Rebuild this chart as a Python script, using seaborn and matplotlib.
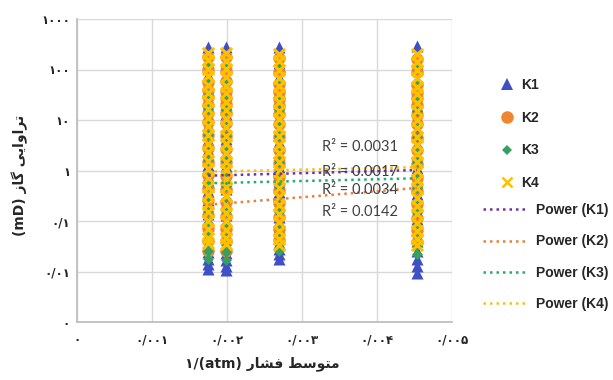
import matplotlib
matplotlib.use("Agg")
import matplotlib.pyplot as plt
import seaborn as sns
import pandas as pd
import numpy as np
from matplotlib.lines import Line2D

# ---------------- data ----------------
x_positions = [0.00175, 0.00199, 0.00269, 0.00453]

k1_values = [
    [280, 140, 78, 41, 25, 12, 7.8, 4.1, 2.5, 1.3, 0.78, 0.4, 0.26, 0.14, 0.085, 0.05, 0.034, 0.024, 0.018, 0.014, 0.011],
    [275, 138, 70, 43, 21, 13, 6.8, 4.3, 2.2, 1.25, 0.68, 0.43, 0.23, 0.13, 0.075, 0.047, 0.032, 0.023, 0.017, 0.013, 0.0105],
    [280, 135, 72, 37, 22, 11, 6.6, 3.7, 2.1, 1.15, 0.64, 0.38, 0.21, 0.12, 0.072, 0.046, 0.036, 0.028, 0.022, 0.018],
    [290, 135, 66, 36, 19, 11.5, 6.1, 3.4, 2.05, 1.1, 0.61, 0.35, 0.2, 0.11, 0.066, 0.04, 0.026, 0.018, 0.013, 0.0095],
]
k2_values = [
    [180, 96, 56, 39, 28, 20, 14, 9.2, 5.1, 2.8, 1.5, 0.82, 0.45, 0.26, 0.13, 0.072, 0.041, 0.026],
    [175, 92, 58, 37, 27, 21, 13.5, 8.8, 4.9, 2.7, 1.45, 0.78, 0.44, 0.24, 0.125, 0.07, 0.04, 0.025],
    [170, 90, 52, 36, 26, 19, 13, 8.5, 4.6, 2.6, 1.4, 0.75, 0.42, 0.23, 0.12, 0.068, 0.042],
    [165, 88, 50, 35, 27, 19.5, 12.5, 8.2, 4.4, 2.5, 1.35, 0.72, 0.4, 0.22, 0.115, 0.065, 0.038],
]
k3_values = [
    [122, 61, 31, 16.5, 9.2, 5.1, 2.9, 1.6, 0.92, 0.51, 0.29, 0.16, 0.092, 0.056, 0.036, 0.025, 0.018],
    [118, 58, 30, 16, 8.8, 4.9, 2.7, 1.55, 0.88, 0.49, 0.27, 0.155, 0.088, 0.054, 0.034, 0.024, 0.017],
    [115, 57, 29, 15.5, 8.5, 4.8, 2.6, 1.5, 0.85, 0.47, 0.26, 0.15, 0.085, 0.052, 0.035, 0.026],
    [112, 55, 28, 15, 8.3, 4.6, 2.55, 1.45, 0.82, 0.46, 0.25, 0.145, 0.082, 0.05, 0.032, 0.022],
]
k4_values = [
    [212, 152, 104, 73, 50, 35, 24, 16.2, 11, 7.6, 5.1, 3.4, 2.3, 1.56, 1.05, 0.71, 0.48, 0.32, 0.22, 0.15, 0.1, 0.068, 0.047, 0.036],
    [208, 148, 101, 70, 48, 34, 23, 15.8, 10.7, 7.3, 4.9, 3.3, 2.25, 1.5, 1.02, 0.69, 0.47, 0.31, 0.21, 0.145, 0.098, 0.066, 0.046, 0.035],
    [205, 146, 99, 69, 47, 33, 22.5, 15.4, 10.4, 7.1, 4.8, 3.25, 2.2, 1.47, 1.0, 0.68, 0.46, 0.3, 0.205, 0.14, 0.095, 0.064, 0.045, 0.034],
    [200, 142, 97, 67, 46, 32, 22, 15, 10.2, 7.0, 4.7, 3.2, 2.15, 1.45, 0.98, 0.66, 0.45, 0.29, 0.2, 0.135, 0.09, 0.062, 0.044, 0.033],
]

series_names = ["K1", "K2", "K3", "K4"]
series_values = [k1_values, k2_values, k3_values, k4_values]

# power trend lines: value at first and last pressure column
trend_start = [0.79, 0.21, 0.56, 0.95]
trend_end = [1.02, 0.45, 0.70, 1.16]

r2_labels = ["R\u00b2 = 0.0031", "R\u00b2 = 0.0017", "R\u00b2 = 0.0034", "R\u00b2 = 0.0142"]
r2_y = [2.92, 0.95, 0.41, 0.153]
r2_x = 0.00378

x_ticks = [0, 0.001, 0.002, 0.003, 0.004, 0.005]
x_ticklabels = ["\u06f0", "\u06f0/\u06f0\u06f0\u06f1", "\u06f0/\u06f0\u06f0\u06f2",
                "\u06f0/\u06f0\u06f0\u06f3", "\u06f0/\u06f0\u06f0\u06f4", "\u06f0/\u06f0\u06f0\u06f5"]
y_ticks = [0.001, 0.01, 0.1, 1, 10, 100, 1000]
y_ticklabels = ["\u06f0", "\u06f0/\u06f0\u06f1", "\u06f0/\u06f1", "\u06f1", "\u06f1\u06f0",
                "\u06f1\u06f0\u06f0", "\u06f1\u06f0\u06f0\u06f0"]

# Persian labels written in visual (left-to-right) order with presentation forms
word_motavaset = "\uFEC2\uFEB3\uFEEE\uFE98\uFEE3"
word_feshar = "\uFEAD\uFE8E\uFEB8\uFED3"
word_gaz = "\uFEAF\uFE8E\uFB94"
word_taravaei = "\uFBFD\uFBFE\uFE8D\uFEED\uFE8D\uFEAE\uFE97"
x_label = "\u06f1/(atm) " + word_feshar + " " + word_motavaset
y_label = "(mD) " + word_gaz + " " + word_taravaei

# ---------------- styling ----------------
sns.set_theme(style="white")
plt.rcParams["font.family"] = ["DejaVu Sans"]

marker_colors = ["#3F4FC4", "#EE8530", "#36A060", "#FFC000"]
marker_shapes = ["^", "o", "D", "x"]
marker_sizes = [75, 80, 30, 65]
line_colors = ["#7030A0", "#E8803A", "#1FAE6A", "#F2C21B"]

fig = plt.figure(figsize=(6.13, 3.80), dpi=100)
ax = fig.add_axes([77 / 613, 1 - 322 / 380, (452 - 77) / 613, (322 - 19) / 380])

for name, vals, col, mk, sz in zip(series_names, series_values, marker_colors, marker_shapes, marker_sizes):
    xs, ys = [], []
    for xp, col_vals in zip(x_positions, vals):
        xs += [xp] * len(col_vals)
        ys += col_vals
    df = pd.DataFrame({"x": xs, "y": ys})
    if mk == "x":
        sns.scatterplot(data=df, x="x", y="y", ax=ax, marker=mk, s=sz, color=col,
                        linewidth=2.2, zorder=3, legend=False)
    else:
        sns.scatterplot(data=df, x="x", y="y", ax=ax, marker=mk, s=sz, color=col,
                        linewidth=0, zorder=3, legend=False)

for ys0, ys1, col in zip(trend_start, trend_end, line_colors):
    ax.plot([x_positions[0], x_positions[-1]], [ys0, ys1], linestyle=(0, (1, 1.6)),
            color=col, linewidth=1.8, zorder=4)

for lbl, yv in zip(r2_labels, r2_y):
    ax.text(r2_x, yv, lbl, ha="center", va="center", fontsize=10.5,
            family=["Lato", "DejaVu Sans"], color="#404040", zorder=5)

ax.set_yscale("log")
ax.set_xlim(0, 0.005)
ax.set_ylim(0.001, 1000)
ax.set_xticks(x_ticks)
ax.set_xticklabels(x_ticklabels, fontsize=8.5, fontweight="bold")
ax.set_yticks(y_ticks)
ax.set_yticklabels(y_ticklabels, fontsize=8.5, fontweight="bold")
ax.yaxis.set_minor_locator(matplotlib.ticker.NullLocator())
ax.tick_params(axis="both", length=0, pad=5)
ax.tick_params(axis="x", pad=8)
ax.grid(True, color="#D9D9D9", linewidth=1.0)
ax.set_axisbelow(True)
ax.set_xlabel("")
ax.set_ylabel("")
for side in ["top", "right"]:
    ax.spines[side].set_visible(False)
for side in ["left", "bottom"]:
    ax.spines[side].set_color("#BFBFBF")
    ax.spines[side].set_linewidth(1.3)

fig.text(262 / 613, 1 - 364 / 380, x_label, ha="center", va="center",
         fontsize=10, fontweight="bold")
fig.text(20 / 613, 1 - 175 / 380, y_label, ha="center", va="center", rotation=90,
         fontsize=10, fontweight="bold")

# legends
marker_handles = [Line2D([], [], linestyle="none", marker=mk, color=col,
                         markersize=ms, markeredgewidth=(1.8 if mk == "x" else 0))
                  for mk, col, ms in zip(marker_shapes, marker_colors, [8, 9, 5.5, 7.5])]
leg1 = fig.legend(marker_handles, series_names, loc="upper left",
                  bbox_to_anchor=(500 / 613, 1 - 78 / 380), frameon=False,
                  prop={"family": "Liberation Sans", "weight": "bold", "size": 10},
                  handlelength=1.0, handletextpad=0.5, labelspacing=1.35,
                  borderpad=0, borderaxespad=0)
line_handles = [Line2D([], [], linestyle=(0, (1, 1.6)), color=col, linewidth=1.8)
                for col in line_colors]
leg2 = fig.legend(line_handles, ["Power (" + n + ")" for n in series_names], loc="upper left",
                  bbox_to_anchor=(483 / 613, 1 - 203 / 380), frameon=False,
                  prop={"family": "Liberation Sans", "weight": "bold", "size": 10},
                  handlelength=3.2, handletextpad=0.6, labelspacing=1.25,
                  borderpad=0, borderaxespad=0)

fig.savefig("out.png", dpi=100)
